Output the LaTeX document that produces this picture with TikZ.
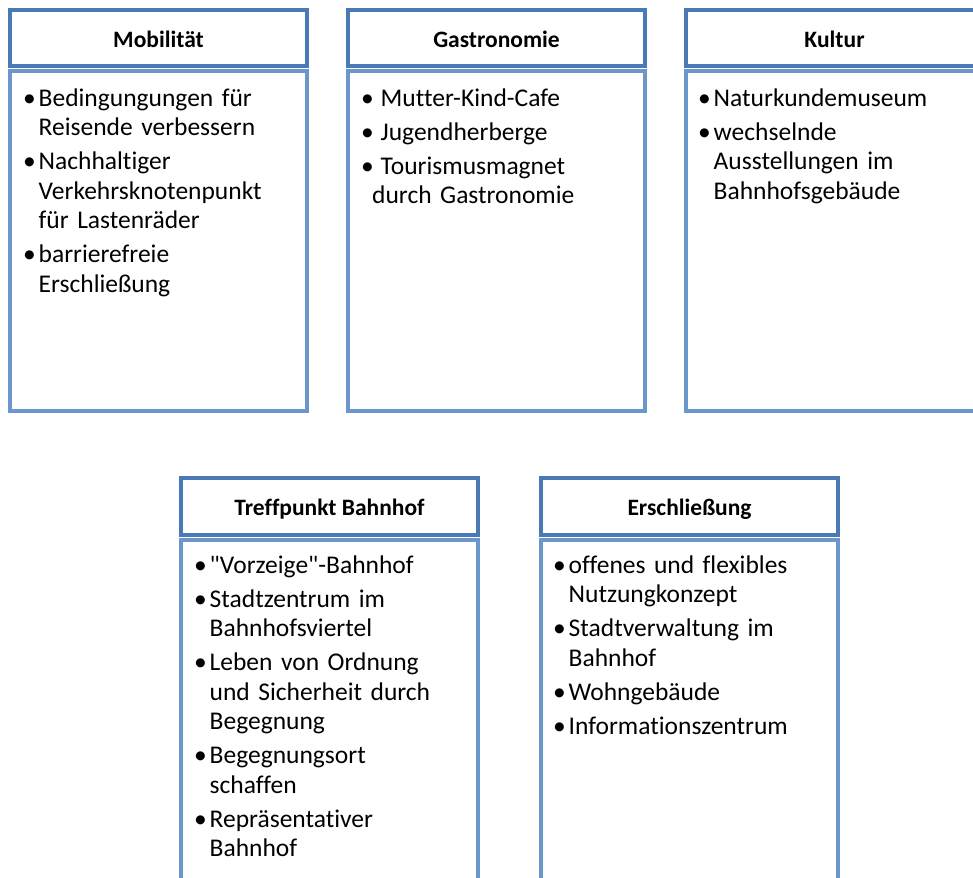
\documentclass[tikz,border=0pt]{standalone}
\usepackage{fontspec}
\setmainfont{Carlito}[Ligatures={TeXOff,CommonOff}]
\definecolor{hdrcol}{RGB}{74,122,182}
\definecolor{bodycol}{RGB}{106,150,204}
\newcommand\itm[2][15.5pt]{\hangindent=#1\relax\hangafter=1\relax\noindent\rule{0pt}{21pt}\makebox[#1][l]{•}#2\par}
\newcommand\bsetup{\setlength{\parindent}{0pt}\setlength{\parskip}{4.5pt}\raggedright}
\tikzset{
  hdrbox/.style={draw=hdrcol, line width=4pt, fill=white, minimum width=297pt, minimum height=56.5pt, inner sep=0pt,
    font=\fontsize{23.5}{28}\selectfont\bfseries, text height=18.5pt, text depth=0pt},
  bodybox/.style={draw=bodycol, line width=4pt, fill=white, minimum width=297pt, inner sep=0pt},
  bodytext/.style={anchor=north west, inner sep=0pt, text width=280pt,
    font=\fontsize{25.5}{29.5}\selectfont}
}
\begin{document}
\begin{tikzpicture}[x=1pt,y=-1pt]
\useasboundingbox (0,0) rectangle (973,877);
\clip (0,0) rectangle (973,877);
% top row bodies
\node[bodybox, minimum height=339.5pt] (b1) at (158.5,241.25) {};
\node[bodybox, minimum height=339.5pt] (b2) at (496.5,241.25) {};
\node[bodybox, minimum height=339.5pt] (b3) at (834.5,241.25) {};
% bottom row bodies
\node[bodybox, minimum height=400pt] (b4) at (329.5,739.5) {};
\node[bodybox, minimum height=400pt] (b5) at (689.5,739.5) {};
% headers
\node[hdrbox] (h1) at (158.5,38.25) {Mobilität};
\node[hdrbox] (h2) at (496.5,38.25) {Gastronomie};
\node[hdrbox] (h3) at (834.5,38.25) {Kultur};
\node[hdrbox] (h4) at (329.5,506.25) {Treffpunkt Bahnhof};
\node[hdrbox] (h5) at (689.5,506.25) {Erschließung};
% texts
\node[bodytext] (t1) at (23,85) {\bsetup
\itm{Bedingungungen für\newline Reisende verbessern}
\itm{Nachhaltiger\newline Verkehrsknotenpunkt\newline für Lastenräder}
\itm{barrierefreie\newline Erschließung}};
\node[bodytext] (t2) at (361,85) {\bsetup
\itm[11pt]{\ Mutter-Kind-Cafe}
\itm[11pt]{\ Jugendherberge}
\itm[11pt]{\ Tourismusmagnet\newline durch Gastronomie}};
\node[bodytext] (t3) at (698,85) {\bsetup
\itm{Naturkundemuseum}
\itm{wechselnde\newline Ausstellungen im\newline Bahnhofsgebäude}};
\node[bodytext] (t4) at (194,552) {\bsetup
\itm{"Vorzeige"-Bahnhof}
\itm{Stadtzentrum im\newline Bahnhofsviertel}
\itm{Leben von Ordnung\newline und Sicherheit durch\newline Begegnung}
\itm{Begegnungsort\newline schaffen}
\itm{Repräsentativer\newline Bahnhof}};
\node[bodytext] (t5) at (553,552) {\bsetup
\itm{offenes und flexibles\newline Nutzungkonzept}
\itm{Stadtverwaltung im\newline Bahnhof}
\itm{Wohngebäude}
\itm{Informationszentrum}};
\end{tikzpicture}
\end{document}
